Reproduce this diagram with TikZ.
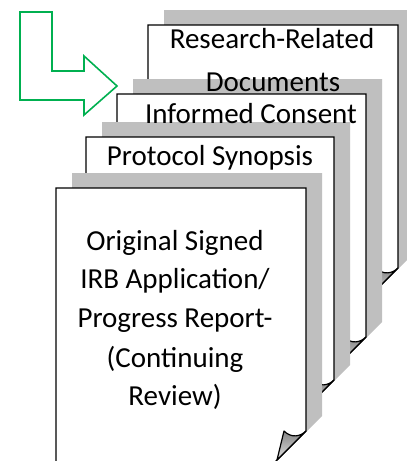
\documentclass[tikz,border=0pt]{standalone}
\usepackage{fontspec}
\setmainfont{Carlito}
\definecolor{arrowgreen}{RGB}{0,176,80}
\definecolor{backsheet}{RGB}{191,191,191}
\begin{document}
\begin{tikzpicture}[x=1pt,y=-1pt,
    sheet/.style={draw=black,line width=1.4pt,fill=white,line join=miter},
    sheetshadow/.style={fill=backsheet},
    curl/.style={draw=black,line width=1.2pt,line join=round,top color=black!48,bottom color=black!12},
    label/.style={anchor=base,inner sep=0pt,font=\fontsize{29}{34}\selectfont},
    bentarrow/.style={draw=arrowgreen,line width=1.6pt,line join=miter}]
  \useasboundingbox (0,0) rectangle (407,461);
  \clip (0,0) rectangle (407,461);

  % stacked sheets, back to front: left, top, right
  \foreach \L/\T/\R in {148/25/398, 117/94/366, 86/137/334, 56/188/306}{
    % grey sheet behind, shifted up and to the right
    \fill[sheetshadow] (\L+16,\T-15) -- (\R+16,\T-15) -- (\R+16,\T+228)
      -- (\R-44,\T+288) -- (\L+16,\T+288) -- cycle;
    % white sheet with the corner cut away
    \draw[sheet] (\L,\T) -- (\R,\T) -- (\R,\T+243)
      -- (\R-60,\T+303) -- (\L,\T+303) -- cycle;
    % folded corner
    \draw[curl] (\R,\T+243) .. controls (\R-6,\T+249) and (\R-15,\T+250)
      .. (\R-22,\T+243) -- (\R-29,\T+272) -- cycle;
  }

  % bent green arrow
  \draw[bentarrow] (20,12) -- (52,12) -- (52,71) -- (84,71) -- (84,56)
    -- (117,86) -- (84,115) -- (84,100) -- (20,100) -- cycle;

  % sheet titles
  \node[label] (rr1) at (272,48) {Research-Related};
  \node[label] (rr2) at (273,91) {Documents};
  \node[label] (ic) at (251,123) {Informed Consent};
  \node[label] (ps) at (210,165) {Protocol Synopsis};
  \node[label] (o1) at (175,250) {Original Signed};
  \node[label] (o2) at (175,288) {IRB Application/};
  \node[label] (o3) at (175,327) {Progress Report-};
  \node[label] (o4) at (175,367) {(Continuing};
  \node[label] (o5) at (175,405) {Review)};
\end{tikzpicture}
\end{document}
